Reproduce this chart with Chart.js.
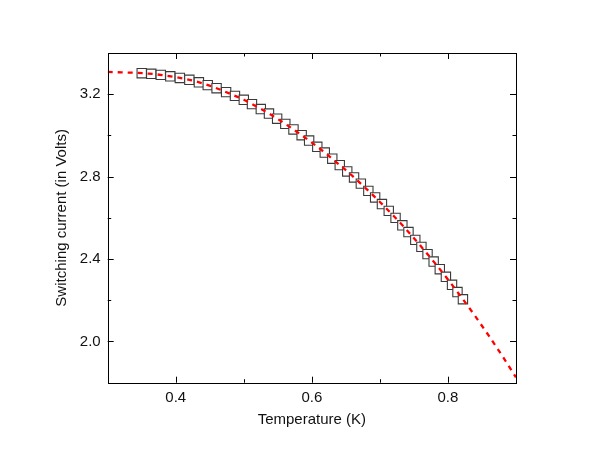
<!DOCTYPE html>
<html lang="en">
  <head>
    <meta charset="UTF-8" />
    <title>Switching current vs temperature</title>
    <script src="https://cdn.jsdelivr.net/npm/chart.js"></script>
    <style>
      html, body { margin: 0; padding: 0; background: #fff; }
      #wrap { width: 600px; height: 459px; }
    </style>
  </head>
  <body>
    <div id="wrap"><canvas id="myChart" width="600" height="459"></canvas></div>

    <script>
      // measured points (squares)
      var temperature = [
        0.350, 0.364, 0.378, 0.392, 0.406, 0.420, 0.434, 0.447, 0.460, 0.474,
        0.487, 0.500, 0.512, 0.525, 0.537, 0.549, 0.561, 0.573, 0.585, 0.596,
        0.608, 0.619, 0.630, 0.641, 0.652, 0.662, 0.672, 0.683, 0.693, 0.703,
        0.713, 0.723, 0.733, 0.742, 0.752, 0.761, 0.770, 0.779, 0.788, 0.797,
        0.806, 0.814, 0.822
      ];
      var switchingCurrent = [
        3.302, 3.299, 3.294, 3.287, 3.279, 3.270, 3.258, 3.244, 3.229, 3.210,
        3.192, 3.173, 3.152, 3.128, 3.106, 3.081, 3.056, 3.029, 3.001, 2.975,
        2.945, 2.917, 2.887, 2.856, 2.825, 2.796, 2.766, 2.731, 2.699, 2.667,
        2.634, 2.600, 2.564, 2.531, 2.493, 2.459, 2.424, 2.388, 2.351, 2.314,
        2.275, 2.240, 2.205
      ];

      // red dashed fit
      var fitTemperature = [
        0.30, 0.32, 0.34, 0.36, 0.38, 0.40, 0.42, 0.44, 0.46, 0.48,
        0.50, 0.52, 0.54, 0.56, 0.58, 0.60, 0.62, 0.64, 0.66, 0.68,
        0.70, 0.72, 0.74, 0.76, 0.78, 0.80, 0.82, 0.84, 0.86, 0.88, 0.90
      ];
      var fitCurrent = [
        3.308, 3.306, 3.304, 3.300, 3.293, 3.283, 3.270, 3.252, 3.229, 3.202,
        3.173, 3.138, 3.100, 3.058, 3.013, 2.965, 2.914, 2.859, 2.802, 2.741,
        2.677, 2.610, 2.539, 2.463, 2.384, 2.301, 2.214, 2.123, 2.028, 1.929, 1.826
      ];

      var xTicks = [0.4, 0.6, 0.8];
      var xMinorTicks = [0.3, 0.5, 0.7, 0.9];
      var yTicks = [2.0, 2.4, 2.8, 3.2];
      var yMinorTicks = [2.2, 2.6, 3.0];

      function toPoints(xs, ys) {
        var pts = [];
        for (var i = 0; i < xs.length; i++) pts.push({ x: xs[i], y: ys[i] });
        return pts;
      }

      // frame + inward ticks on all four sides
      var frameTicks = {
        id: "frameTicks",
        afterDraw: function (chart) {
          var c = chart.ctx, a = chart.chartArea;
          var sx = chart.scales.x, sy = chart.scales.y;
          c.save();
          c.strokeStyle = "#000";
          c.lineWidth = 1;
          c.beginPath();
          function xt(v, len) {
            var px = Math.round(sx.getPixelForValue(v)) + 0.5;
            c.moveTo(px, a.bottom); c.lineTo(px, a.bottom - len);
            c.moveTo(px, a.top); c.lineTo(px, a.top + len);
          }
          function yt(v, len) {
            var py = Math.round(sy.getPixelForValue(v)) + 0.5;
            c.moveTo(a.left, py); c.lineTo(a.left + len, py);
            c.moveTo(a.right, py); c.lineTo(a.right - len, py);
          }
          xTicks.forEach(function (v) { xt(v, 6); });
          xMinorTicks.forEach(function (v) { xt(v, 3.5); });
          yTicks.forEach(function (v) { yt(v, 6); });
          yMinorTicks.forEach(function (v) { yt(v, 3.5); });
          c.stroke();
          c.strokeRect(Math.round(a.left) + 0.5, Math.round(a.top) + 0.5,
            Math.round(a.right - a.left), Math.round(a.bottom - a.top));
          c.restore();
        }
      };

      var ctx = document.getElementById("myChart").getContext("2d");
      var font = { family: "'Liberation Sans', Arial, sans-serif", size: 15 };

      new Chart(ctx, {
        type: "scatter",
        data: {
          datasets: [
            {
              label: "fit",
              data: toPoints(fitTemperature, fitCurrent),
              showLine: true,
              borderColor: "#ff0000",
              borderWidth: 2.3,
              borderDash: [5, 5],
              pointRadius: 0,
              cubicInterpolationMode: "monotone",
              order: 0
            },
            {
              label: "data",
              data: toPoints(temperature, switchingCurrent),
              showLine: false,
              pointStyle: "rect",
              pointRadius: 6.6,
              pointBackgroundColor: "#ffffff",
              pointBorderColor: "#3a3a3a",
              pointBorderWidth: 1.1,
              order: 1
            }
          ]
        },
        options: {
          responsive: false,
          animation: false,
          layout: { padding: { top: 53, right: 84, left: 0, bottom: 0 } },
          plugins: { legend: { display: false }, tooltip: { enabled: false } },
          scales: {
            x: {
              type: "linear",
              min: 0.3,
              max: 0.9,
              afterBuildTicks: function (s) { s.ticks = xTicks.map(function (v) { return { value: v }; }); },
              afterFit: function (s) { s.height = 76.3; },
              grid: { display: false, drawTicks: false },
              border: { display: false },
              ticks: { font: font, color: "#111", padding: 6, maxRotation: 0,
                callback: function (v) { return v.toFixed(1); } },
              title: { display: true, text: "Temperature (K)", font: font, color: "#111",
                padding: { top: 0, bottom: 30 } }
            },
            y: {
              type: "linear",
              min: 1.8,
              max: 3.4,
              afterBuildTicks: function (s) { s.ticks = yTicks.map(function (v) { return { value: v }; }); },
              afterFit: function (s) { s.width = 107.7; },
              grid: { display: false, drawTicks: false },
              border: { display: false },
              ticks: { font: font, color: "#111", padding: 7,
                callback: function (v) { return v.toFixed(1); } },
              title: { display: true, text: "Switching current (in Volts)", font: font, color: "#111",
                padding: { top: 52.7, bottom: 0 } }
            }
          }
        },
        plugins: [frameTicks]
      });
    </script>
  </body>
</html>
